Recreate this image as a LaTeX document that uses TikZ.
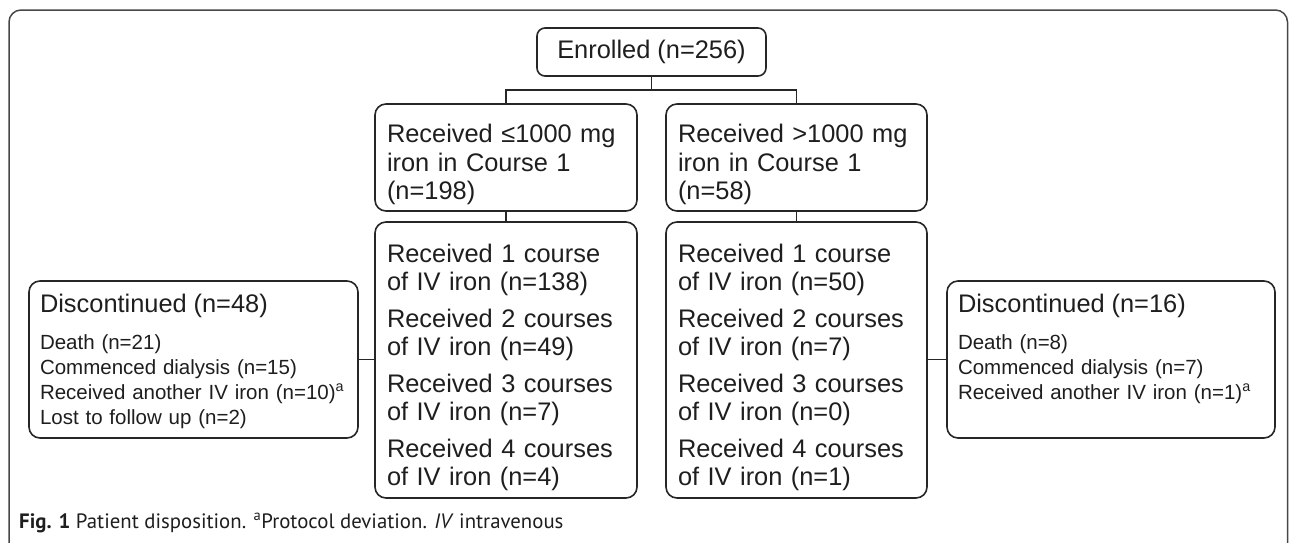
\documentclass[tikz,border=0pt]{standalone}
\usepackage{fontspec}
\setmainfont{Liberation Sans}
\newfontfamily\capfont{PT Sans}
\definecolor{ln}{HTML}{262626}
\definecolor{tx}{HTML}{1E1E1E}
\newcommand{\topstrut}[1]{\rule{0pt}{#1}}
\begin{document}
\begin{tikzpicture}[x=1pt,y=-1pt,
  box/.style={draw=ln, line width=1.6pt, rounded corners=11pt, text=tx, align=left,
    inner xsep=12pt, inner ysep=0pt, font=\fontsize{25.4}{28.5}\selectfont},
  discbox/.style={box, font=\fontsize{20.5}{25}\selectfont, inner xsep=11pt},
  conn/.style={draw=ln, line width=1.6pt},
  frame/.style={draw=ln!85, line width=1.5pt, rounded corners=12pt}]
\clip (0,0) rectangle (1290,542);
\draw[frame] (9,10) rectangle (1287.5,600);

\node[box, align=center, rounded corners=8pt, minimum width=229pt, minimum height=48pt] (enr) at (651.5,52) {Enrolled (n=256)};

\node[box, text width=238pt, minimum height=107pt] (b2a) at (506,157.5)
  {\topstrut{33pt}Received ≤1000 mg\\iron in Course 1\\(n=198)};
\node[box, text width=237pt, minimum height=107pt] (b2b) at (796.5,157.5)
  {\topstrut{33pt}Received >1000 mg\\iron in Course 1\\(n=58)};

\node[box, text width=238pt, minimum height=276pt] (b3a) at (506,360)
  {\topstrut{33pt}Received 1 course\\of IV iron (n=138)\\[8pt]Received 2 courses\\of IV iron (n=49)\\[8pt]Received 3 courses\\of IV iron (n=7)\\[8pt]Received 4 courses\\of IV iron (n=4)};
\node[box, text width=237pt, minimum height=276pt] (b3b) at (796.5,360)
  {\topstrut{33pt}Received 1 course\\of IV iron (n=50)\\[8pt]Received 2 courses\\of IV iron (n=7)\\[8pt]Received 3 courses\\of IV iron (n=0)\\[8pt]Received 4 courses\\of IV iron (n=1)};

\node[discbox, text width=307pt, minimum height=157pt] (dl) at (193.5,359.5)
  {{\fontsize{25.4}{27}\selectfont\topstrut{21.5pt}Discontinued (n=48)}\\[12pt]Death (n=21)\\Commenced dialysis (n=15)\\Received another IV iron (n=10)\textsuperscript{a}\\Lost to follow up (n=2)};
\node[discbox, text width=306pt, minimum height=157pt] (dr) at (1111,359.5)
  {{\fontsize{25.4}{27}\selectfont\topstrut{21.5pt}Discontinued (n=16)}\\[12pt]Death (n=8)\\Commenced dialysis (n=7)\\Received another IV iron (n=1)\textsuperscript{a}\\\rule[-4.3pt]{0pt}{1pt}};

\coordinate (j) at (651.5,90);
\draw[conn] (enr.south) -- (j);
\draw[conn] (b2a.north) |- (j) -| (b2b.north);
\draw[conn] (b2a.south) -- (b3a.north);
\draw[conn] (b2b.south) -- (b3b.north);
\draw[conn] (dl.east) -- (dl.east -| b3a.west);
\draw[conn] (dr.west) -- (dr.west -| b3b.east);

\node[anchor=west, inner sep=0pt, text=tx, font=\capfont\fontsize{20.8}{24}\selectfont] (cap) at (19,523)
  {\textbf{Fig. 1} Patient disposition. \textsuperscript{a}Protocol deviation. \textit{IV} intravenous};
\end{tikzpicture}
\end{document}
